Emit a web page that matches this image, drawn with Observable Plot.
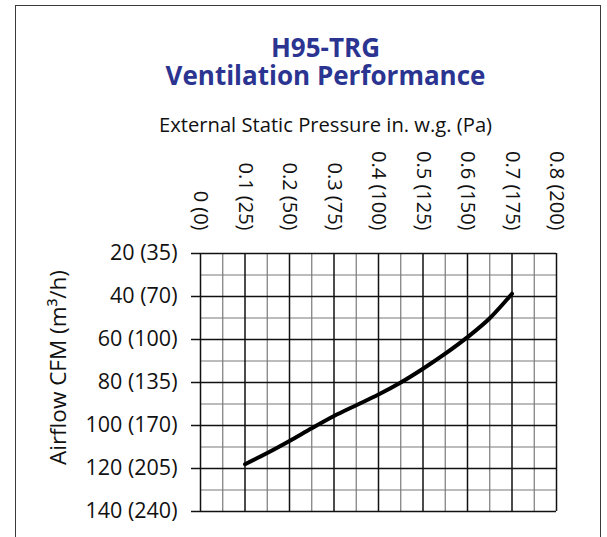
<!DOCTYPE html>
<html>
<head>
<meta charset="utf-8">
<script src="https://cdn.jsdelivr.net/npm/d3@7"></script>
<script src="https://cdn.jsdelivr.net/npm/@observablehq/plot@0.6"></script>
<style>
  html, body { margin: 0; padding: 0; background: #fff; }
  body { width: 607px; height: 537px; overflow: hidden; position: relative; font-family: "Open Sans", sans-serif; }
  #frame { position: absolute; left: 15px; top: 5px; width: 586px; height: 620px; border: 1.5px solid #3a3a3a; box-sizing: border-box; }
  .t { position: absolute; left: 0; width: 651px; text-align: center; white-space: nowrap; }
  .title { color: #2b3591; font-weight: 700; font-size: 26px; line-height: 28.3px; top: 32.5px; }
  .xlab { color: #111; font-size: 20.2px; line-height: 1; top: 114.2px; }
  #chart { position: absolute; left: 0; top: 140px; }
</style>
</head>
<body>
<div id="frame"></div>
<div class="t title">H95-TRG<br>Ventilation Performance</div>
<div class="t xlab">External Static Pressure in. w.g. (Pa)</div>
<div id="chart"></div>
<script>
// Data
const pressure = [0.1, 0.15, 0.2, 0.25, 0.3, 0.35, 0.4, 0.45, 0.5, 0.55, 0.6, 0.65, 0.7];
const airflow  = [118, 112.8, 107.2, 101.3, 95.6, 90.6, 85.6, 80, 73.6, 66.6, 58.9, 50.1, 38.7];

const xTicks = [0, 0.1, 0.2, 0.3, 0.4, 0.5, 0.6, 0.7, 0.8];
const xTickLabels = ["0 (0)", "0.1 (25)", "0.2 (50)", "0.3 (75)", "0.4 (100)", "0.5 (125)", "0.6 (150)", "0.7 (175)", "0.8 (200)"];
const xMinor = [0.05, 0.15, 0.25, 0.35, 0.45, 0.55, 0.65, 0.75];
const yTicks = [20, 40, 60, 80, 100, 120, 140];
const yTickLabels = ["20 (35)", "40 (70)", "60 (100)", "80 (135)", "100 (170)", "120 (205)", "140 (240)"];
const yMinor = [30, 50, 70, 90, 110, 130];
const yLabel = "Airflow CFM (m³/h)";

const data = pressure.map((p, i) => ({p, cfm: airflow[i]}));

const chart = Plot.plot({
  width: 607,
  height: 397,
  marginLeft: 200,
  marginRight: 51,
  marginTop: 113,
  marginBottom: 26,
  style: {background: "transparent", fontFamily: "'Open Sans', sans-serif", color: "#111"},
  x: {domain: [0, 0.8]},
  y: {domain: [20, 140], reverse: true},
  marks: [
    Plot.ruleX(xMinor, {stroke: "#7a7a7a", strokeWidth: 1.2}),
    Plot.ruleY(yMinor, {stroke: "#7a7a7a", strokeWidth: 1.2}),
    Plot.ruleX(xTicks, {stroke: "#111", strokeWidth: 1.5}),
    Plot.ruleY(yTicks, {stroke: "#111", strokeWidth: 1.5}),
    Plot.axisX({
      anchor: "top",
      ticks: xTicks,
      tickFormat: d => xTickLabels[xTicks.indexOf(d)],
      tickRotate: 90,
      tickSize: 0,
      tickPadding: 23,
      textAnchor: "end",
      lineAnchor: "middle",
      fontSize: 20,
      fill: "#111",
      label: null
    }),
    Plot.axisY({
      ticks: yTicks,
      tickFormat: d => yTickLabels[yTicks.indexOf(d)],
      tickSize: 9,
      tickPadding: 14,
      strokeWidth: 1.5,
      stroke: "#111",
      fontSize: 21.5,
      fill: "#111",
      label: null
    }),
    Plot.text([yLabel], {
      frameAnchor: "left",
      rotate: -90,
      dx: -135,
      dy: -15,
      lineAnchor: "bottom",
      textAnchor: "middle",
      fontSize: 22.5,
      fill: "#111"
    }),
    Plot.line(data, {x: "p", y: "cfm", stroke: "#000", strokeWidth: 4, curve: "monotone-x"})
  ]
});
document.getElementById("chart").appendChild(chart);
</script>
</body>
</html>
